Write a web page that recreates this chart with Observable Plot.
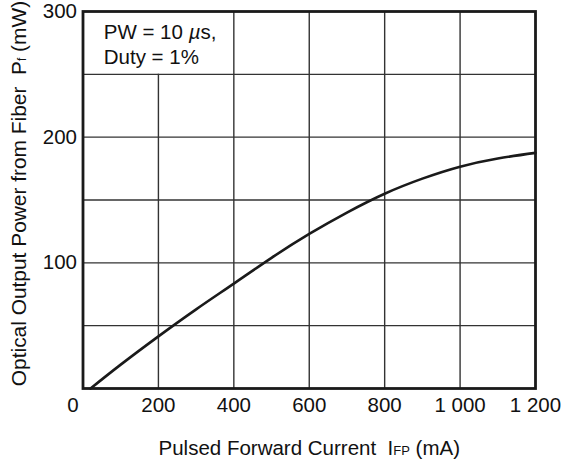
<!DOCTYPE html>
<html>
<head>
<meta charset="utf-8">
<script src="https://cdn.jsdelivr.net/npm/d3@7"></script>
<script src="https://cdn.jsdelivr.net/npm/@observablehq/plot@0.6"></script>
<style>
  html, body { margin: 0; padding: 0; background: #fff; }
  svg text { white-space: pre; }
</style>
</head>
<body>
<div id="chart"></div>
<script>
// Data
const currentMA = [20, 100, 200, 300, 400, 500, 600, 700, 800, 900, 1000, 1100, 1200];
const powerMW   = [0, 19, 41.5, 63, 83.5, 104, 123, 140, 155, 167, 176.5, 183, 187.5];

const xTicks = [200, 400, 600, 800, 1000, 1200];
const xZeroTick = [0];
const yTicks = [100, 200, 300];
const xGrid = [200, 400, 600, 800, 1000];
const xGridTop = [250, 300, 300, 300, 300];
const yGrid = [50, 100, 150, 200, 250];

const noteLines = ["PW = 10 µs,", "Duty = 1%"];
const noteX = [55, 55];
const noteY = [278, 258];

const xLabel = "Pulsed Forward Current  IFP (mA)";
const yLabel = "Optical Output Power from Fiber  Pf (mW)";

const curve = currentMA.map((x, i) => ({x, y: powerMW[i]}));
const vgrid = xGrid.map((x, i) => ({x, top: xGridTop[i]}));
const notes = noteLines.map((t, i) => ({t, x: noteX[i], y: noteY[i]}));

const fmt = d => d >= 1000 ? d3.format(",")(d).replace(",", " ") : String(d);
const FONT = "Liberation Sans, Arial, Helvetica, sans-serif";
const FS = 20.5;

const chart = Plot.plot({
  width: 564,
  height: 465,
  marginLeft: 82.5,
  marginRight: 29,
  marginTop: 11,
  marginBottom: 77,
  style: {fontFamily: FONT, fontSize: FS + "px", color: "#111", background: "#fff"},
  x: {domain: [0, 1200]},
  y: {domain: [0, 300]},
  marks: [
    Plot.ruleY(yGrid, {stroke: "#333", strokeWidth: 1.4}),
    Plot.ruleX(vgrid, {x: "x", y1: 0, y2: "top", stroke: "#333", strokeWidth: 1.4}),
    Plot.line(curve, {x: "x", y: "y", curve: "natural", stroke: "#1a1a1a", strokeWidth: 2.6}),
    Plot.frame({stroke: "#1a1a1a", strokeWidth: 2.8}),
    Plot.axisX({ticks: xTicks, tickSize: 0, tickPadding: 9, tickFormat: fmt, fontSize: FS, label: null}),
    Plot.axisX({ticks: xZeroTick, tickSize: 0, tickPadding: 9, tickFormat: fmt, fontSize: FS, label: null, dx: -10}),
    Plot.axisY({ticks: yTicks, tickSize: 0, tickPadding: 6, fontSize: FS, label: null}),
    Plot.text(notes, {x: "x", y: "y", text: "t", textAnchor: "start", lineAnchor: "bottom", fontSize: FS, fill: "#111", className: "note"}),
    Plot.text([xLabel], {frameAnchor: "bottom", textAnchor: "middle", dy: 66, text: d => d, fontSize: FS, fill: "#111", className: "xlab"}),
    Plot.text([yLabel], {frameAnchor: "left", textAnchor: "middle", dx: -64, dy: -6.5, rotate: -90, text: d => d, fontSize: 20.9, fill: "#111", className: "ylab"})
  ]
});

const svg = d3.select(chart);
svg.selectAll(".note text").filter(function() { return this.textContent.startsWith("PW"); })
  .html('PW = 10 <tspan font-style="italic">µ</tspan>s,');
svg.select(".xlab text")
  .html('Pulsed Forward Current  I<tspan font-size="13">FP</tspan> (mA)');
svg.select(".ylab text")
  .html('Optical Output Power from Fiber  P<tspan font-size="12">f</tspan> (mW)');

document.getElementById("chart").appendChild(chart);
</script>
</body>
</html>
